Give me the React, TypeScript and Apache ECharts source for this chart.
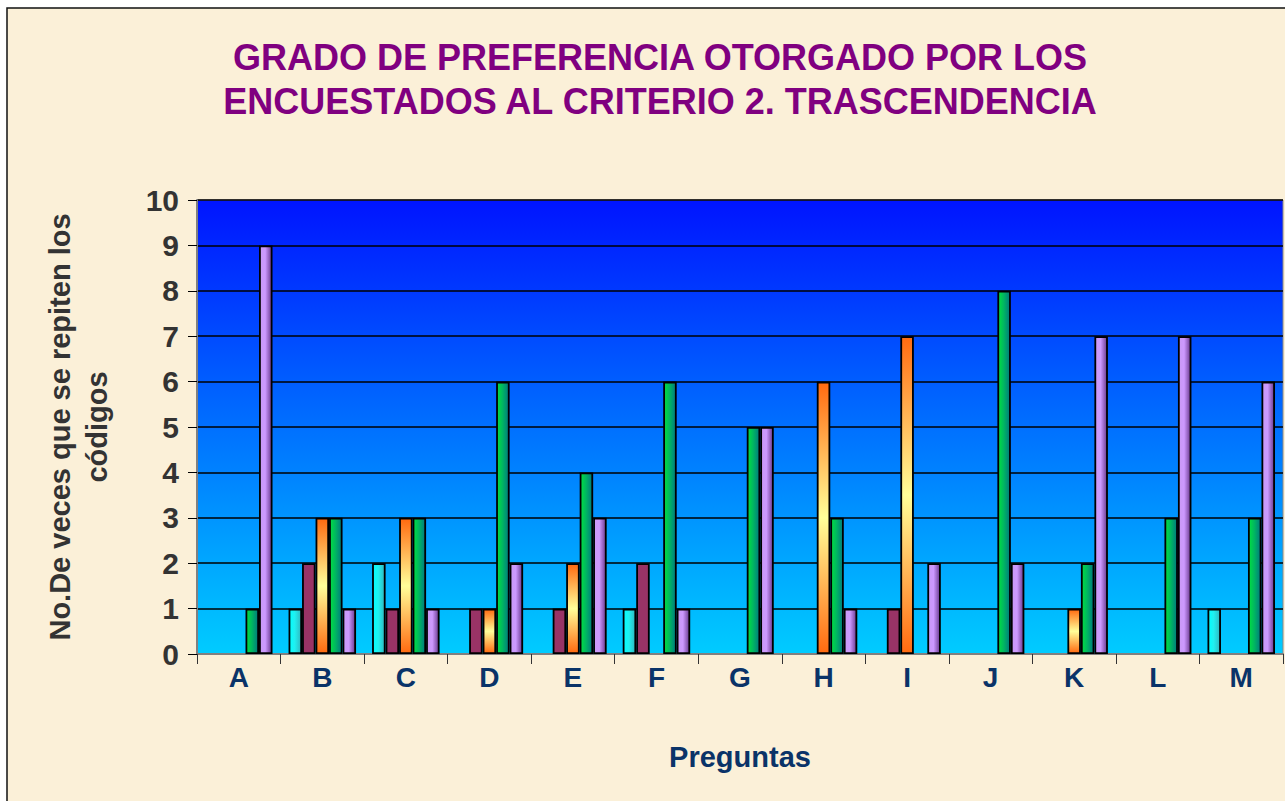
import React, { useEffect, useRef } from "react";
import * as echarts from "echarts";

const categories = ["A", "B", "C", "D", "E", "F", "G", "H", "I", "J", "K", "L", "M"];
const seriesCyan = [0, 1, 2, 0, 0, 1, 0, 0, 0, 0, 0, 0, 1];
const seriesMaroon = [0, 2, 1, 1, 1, 2, 0, 0, 1, 0, 0, 0, 0];
const seriesOrange = [0, 3, 3, 1, 2, 0, 0, 6, 7, 0, 1, 0, 0];
const seriesGreen = [1, 3, 3, 6, 4, 6, 5, 3, 0, 8, 2, 3, 3];
const seriesLavender = [9, 1, 1, 2, 3, 1, 5, 1, 2, 2, 7, 7, 6];
const yTicks = [0, 1, 2, 3, 4, 5, 6, 7, 8, 9, 10];

const titleText = "GRADO DE PREFERENCIA OTORGADO POR LOS\nENCUESTADOS AL CRITERIO 2. TRASCENDENCIA";
const FONT = "'Liberation Sans', Arial, sans-serif";

export default function App() {
  const ref = useRef<HTMLDivElement>(null);
  useEffect(() => {
    if (!ref.current) return;
    const chart = echarts.init(ref.current, null, { renderer: "svg" });
    const LG = echarts.graphic.LinearGradient;
    const hGrad = (a: string, b: string, c: string) =>
      new LG(0, 0, 1, 0, [
        { offset: 0, color: a },
        { offset: 0.45, color: b },
        { offset: 1, color: c },
      ]);
    const mk = (name: string, data: number[], color: any) => ({
      name,
      type: "bar",
      data: data.map((v) => (v === 0 ? null : v)),
      barWidth: 13.5,
      barGap: "0%",
      itemStyle: { color, borderColor: "#000", borderWidth: 1.8 },
    });
    const orangeGrad = new LG(0, 0, 0, 1, [
      { offset: 0, color: "#FF6A10" },
      { offset: 0.5, color: "#FFFF99" },
      { offset: 1, color: "#FF6A10" },
    ]);
    chart.setOption({
      animation: false,
      backgroundColor: "transparent",
      title: {
        text: titleText,
        left: 655,
        top: 30,
        textAlign: "center",
        textStyle: {
          color: "#800080",
          fontSize: 36,
          fontWeight: "bold",
          fontFamily: FONT,
          lineHeight: 44,
        },
      },
      graphic: [
        {
          type: "rect",
          z: -10,
          silent: true,
          shape: { x: 7, y: 8, width: 1300, height: 820 },
          style: { fill: "#FBF0D8", stroke: "#111", lineWidth: 1.5 },
        },
      ],
      grid: {
        left: 197,
        right: 2,
        top: 200,
        bottom: 147,
        show: true,
        borderColor: "#888",
        borderWidth: 1,
        backgroundColor: new LG(0, 0, 0, 1, [
          { offset: 0, color: "#0014FF" },
          { offset: 1, color: "#00CCFF" },
        ]),
      },
      xAxis: {
        type: "category",
        data: categories,
        name: "Preguntas",
        nameLocation: "middle",
        nameGap: 88,
        nameTextStyle: {
          color: "#0A3368",
          fontSize: 29,
          fontWeight: "bold",
          fontFamily: FONT,
        },
        axisLine: { lineStyle: { color: "#808080", width: 2 } },
        axisTick: { show: true, length: 10, lineStyle: { color: "#333" } },
        axisLabel: {
          color: "#0A3368",
          fontSize: 28,
          fontWeight: "bold",
          margin: 9,
          fontFamily: FONT,
        },
      },
      yAxis: {
        type: "value",
        min: yTicks[0],
        max: yTicks[yTicks.length - 1],
        interval: 1,
        name: "No.De veces que se repiten los\ncódigos",
        nameLocation: "middle",
        nameGap: 82,
        nameTextStyle: {
          color: "#333",
          fontSize: 29,
          fontWeight: "bold",
          lineHeight: 37,
          fontFamily: FONT,
        },
        axisLine: { show: true, lineStyle: { color: "#808080", width: 2 } },
        axisTick: { show: true, length: 9, lineStyle: { color: "#000" } },
        axisLabel: {
          color: "#333",
          fontSize: 30,
          fontWeight: "bold",
          margin: 18,
          fontFamily: FONT,
        },
        splitLine: { lineStyle: { color: "#000", width: 1.5 } },
      },
      series: [
        mk("S1", seriesCyan, hGrad("#00FFFF", "#20F0F0", "#30B8C0")),
        mk("S2", seriesMaroon, "#993366"),
        mk("S3", seriesOrange, orangeGrad),
        mk("S4", seriesGreen, hGrad("#00E040", "#00B860", "#007A80")),
        mk("S5", seriesLavender, hGrad("#C99AF5", "#CC99FF", "#6A3A90")),
      ],
    });
    return () => chart.dispose();
  }, []);
  return (
    <div
      ref={ref}
      style={{ position: "fixed", left: 0, top: 0, width: 1285, height: 801, background: "#fff" }}
    />
  );
}
